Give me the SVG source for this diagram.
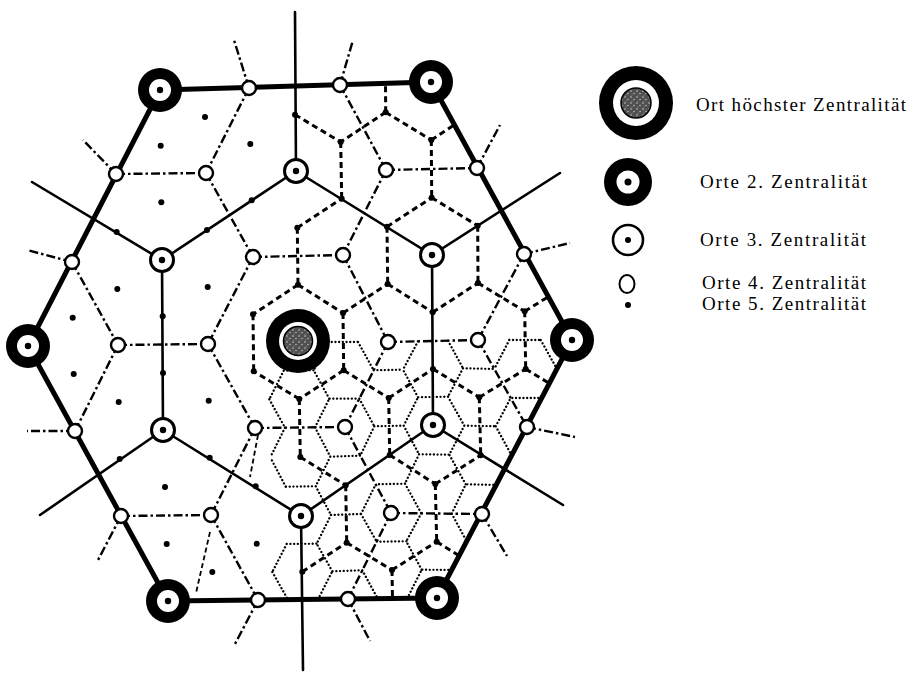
<svg xmlns="http://www.w3.org/2000/svg" width="913" height="674" viewBox="0 0 913 674">
<defs>
<style>
.thick{fill:none;stroke:#000;stroke-width:5;stroke-linecap:round;stroke-linejoin:round}
.solid{fill:none;stroke:#000;stroke-width:2.6;stroke-linecap:round;stroke-linejoin:round}
.dd{fill:none;stroke:#000;stroke-width:2.4;stroke-dasharray:9 3 2.5 3}
.dash{fill:none;stroke:#000;stroke-width:3;stroke-dasharray:6 4}
.dot{fill:none;stroke:#000;stroke-width:2.3;stroke-dasharray:0.1 3.6;stroke-linecap:round}
.thin{fill:none;stroke:#000;stroke-width:1.8;stroke-dasharray:5 3}
.m{fill:#000}
.lbl{font-family:"Liberation Serif","Times New Roman",serif;font-size:19px;fill:#000}
</style>
<pattern id="stip" width="6" height="6" patternUnits="userSpaceOnUse">
<rect width="6" height="6" fill="#505050"/>
<circle cx="1" cy="1" r="0.8" fill="#c8c8c8"/>
<circle cx="4" cy="3.5" r="0.7" fill="#d0d0d0"/>
<circle cx="2" cy="5" r="0.5" fill="#999"/>
</pattern>
<g id="symA"><circle r="32" fill="#000"/><circle r="19" fill="#fff"/><circle r="14.5" fill="url(#stip)" stroke="#000" stroke-width="1.5"/></g>
<g id="symG"><circle r="22" fill="#000"/><circle r="11" fill="#fff"/><circle r="3.2" fill="#000"/></g>
<g id="symB"><circle r="11.5" fill="#fff" stroke="#000" stroke-width="3"/><circle r="3.2" fill="#000"/></g>
<g id="symK"><circle r="7" fill="#fff" stroke="#000" stroke-width="2.4"/></g>
</defs>
<rect width="913" height="674" fill="#fff"/>

<g id="connectors">
<path class="dot" d="M328,342 L358,342 M329.3,398.7 L313.7,370.3 M463,368.3 L448,396.7 M418,397.3 L403,369.7 M509.3,340 L540.7,340 M283.7,370.7 L269.3,399.3 M374.3,426.3 L403.7,425.7 M464.3,425.7 L495.7,426.3 M330.3,456.7 L315.7,486.3 M285.7,486.7 L270.3,457.3 M419,454.3 L405,483.7 M465.7,484.3 L449.3,454.7 M331,515 L361,514 M332.3,571.3 L316.7,543.7 M421.7,569.7 L406.3,541.3 M286.7,544 L272.3,572
M328,342 L313.7,370.3 M358,342 L373.7,370.3 M359.3,398.7 L329.3,398.7 M418,341.3 L403,369.7 M448,340.7 L463,368.3 M448,396.7 L418,397.3 M509.3,340 L494.3,369 M540.7,340 L557,369 M542,398 L510.7,398 M283.7,370.7 L313.7,370.3 M269.3,399.3 L285,427.7 M315,427.3 L329.3,398.7 M373.7,370.3 L403,369.7 M359.3,398.7 L374.3,426.3 M403.7,425.7 L418,397.3 M463,368.3 L494.3,369 M448,396.7 L464.3,425.7 M495.7,426.3 L510.7,398 M285,427.7 L270.3,457.3 M315,427.3 L330.3,456.7 M315.7,486.3 L285.7,486.7 M374.3,426.3 L360.3,455.7 M403.7,425.7 L419,454.3 M405,483.7 L375.7,484.3 M464.3,425.7 L449.3,454.7 M495.7,426.3 L512,456 M497,485 L465.7,484.3 M330.3,456.7 L360.3,455.7 M315.7,486.3 L331,515 M361,514 L375.7,484.3 M419,454.3 L449.3,454.7 M405,483.7 L421.3,513.3 M451.7,513.7 L465.7,484.3 M331,515 L316.7,543.7 M361,514 L376.7,541.7 M362.3,570.3 L332.3,571.3 M421.3,513.3 L406.3,541.3 M451.7,513.7 L467,542 M452,570 L421.7,569.7 M286.7,544 L316.7,543.7 M272.3,572 L288,599.7 M318,599.3 L332.3,571.3 M376.7,541.7 L406.3,541.3 M362.3,570.3 L377.7,598.7 M407.3,598.3 L421.7,569.7"/>
<path class="dash" d="M295,114.7 L340.7,142 M385.7,112.3 L340.7,142 M385.7,112.3 L431.3,140 M385.7,112.3 L385.5,83.5 M340.7,142 L341.7,198.7 M431.3,140 L431.7,197.7 M431.3,140 L454,125 M297.3,227.7 L341.7,198.7 M297.3,227.7 L298,284.7 M387,226.7 L387.7,284 M387,226.7 L431.7,197.7 M431.7,197.7 L477.7,225.7 M477.7,225.7 L478,283 M298,284.7 L343,313 M298,284.7 L253,314.3 M343,313 L343.7,370.3 M343,313 L387.7,284 M387.7,284 L432.7,312.3 M432.7,312.3 L478,283 M478,283 L524.7,311.3 M524.7,311.3 L525.7,369 M524.7,311.3 L548,297 M343.7,370.3 L388.7,398 M343.7,370.3 L299.3,399 M299.3,399 L300.3,457 M299.3,399 L253.7,371.3 M253,314.3 L253.7,371.3 M388.7,398 L389.7,455 M388.7,398 L433,369 M433,369 L479.3,397.3 M479.3,397.3 L480.7,455.3 M479.3,397.3 L525.7,369 M525.7,369 L549.5,383.5 M300.3,457 L345.7,485.3 M345.7,485.3 L346.7,542.7 M389.7,455 L435.3,484 M435.3,484 L436.7,541.7 M435.3,484 L480.7,455.3 M302.3,571.7 L346.7,542.7 M346.7,542.7 L392,570 M392,570 L436.7,541.7 M392,570 L392.5,598.5 M436.7,541.7 L459.5,556"/>
<path class="dd" d="M116,174 L206,173 M386,170 L477,168 M253,257 L343,255 M118,345 L208,344 M388,342 L478,340 M255,428 L345,427 M121,516 L211,515 M391,513 L482,514 M249,88 L206,173 M340,85 L386,170 M206,173 L253,257 M386,170 L343,255 M72,262 L118,345 M253,257 L208,344 M343,255 L388,342 M524,254 L478,340 M118,345 L75,431 M208,344 L255,428 M388,342 L345,427 M478,340 L527,427 M255,428 L211,515 M345,427 L391,513 M211,515 L258,600 M391,513 L348,599
M249,88 L234,40 M340,85 L353,40 M477,168 L500,125 M524,254 L570,243 M527,427 L575,437 M482,514 L507,556 M348,599 L370,641 M258,600 L235,644 M121,516 L97,562 M75,431 L27,431 M72,262 L27,250 M116,174 L83,140"/>
<path class="thin" d="M258,435 L250,477 M210,532 L196,593"/>
<path class="solid" d="M296,171 L432,255 L433,425 L301,516 L163,430 L162,260 Z M295,12 L296,171 M432,255 L560,173 M433,425 L563,505 M301,516 L303,670 M163,430 L40,515 M162,260 L32,182"/>
<path class="thick" d="M160,90 L431,82 L572,340 L437,598 L168,601 L28,346 Z"/>
</g>

<g id="A"><use href="#symA" x="298" y="341"/></g>
<g id="G1"><use href="#symG" x="160" y="90"/></g>
<g id="G2"><use href="#symG" x="431" y="82"/></g>
<g id="G3"><use href="#symG" x="572" y="340"/></g>
<g id="G4"><use href="#symG" x="437" y="598"/></g>
<g id="G5"><use href="#symG" x="168" y="601"/></g>
<g id="G6"><use href="#symG" x="28" y="346"/></g>
<g id="B1"><use href="#symB" x="296" y="171"/></g>
<g id="B2"><use href="#symB" x="432" y="255"/></g>
<g id="B3"><use href="#symB" x="433" y="425"/></g>
<g id="B4"><use href="#symB" x="301" y="516"/></g>
<g id="B5"><use href="#symB" x="163" y="430"/></g>
<g id="B6"><use href="#symB" x="162" y="260"/></g>
<g id="K01"><use href="#symK" x="249" y="88"/></g>
<g id="K02"><use href="#symK" x="340" y="85"/></g>
<g id="K03"><use href="#symK" x="116" y="174"/></g>
<g id="K04"><use href="#symK" x="206" y="173"/></g>
<g id="K05"><use href="#symK" x="386" y="170"/></g>
<g id="K06"><use href="#symK" x="477" y="168"/></g>
<g id="K07"><use href="#symK" x="72" y="262"/></g>
<g id="K08"><use href="#symK" x="253" y="257"/></g>
<g id="K09"><use href="#symK" x="343" y="255"/></g>
<g id="K10"><use href="#symK" x="524" y="254"/></g>
<g id="K11"><use href="#symK" x="118" y="345"/></g>
<g id="K12"><use href="#symK" x="208" y="344"/></g>
<g id="K13"><use href="#symK" x="388" y="342"/></g>
<g id="K14"><use href="#symK" x="478" y="340"/></g>
<g id="K15"><use href="#symK" x="75" y="431"/></g>
<g id="K16"><use href="#symK" x="255" y="428"/></g>
<g id="K17"><use href="#symK" x="345" y="427"/></g>
<g id="K18"><use href="#symK" x="527" y="427"/></g>
<g id="K19"><use href="#symK" x="121" y="516"/></g>
<g id="K20"><use href="#symK" x="211" y="515"/></g>
<g id="K21"><use href="#symK" x="391" y="513"/></g>
<g id="K22"><use href="#symK" x="482" y="514"/></g>
<g id="K23"><use href="#symK" x="258" y="600"/></g>
<g id="K24"><use href="#symK" x="348" y="599"/></g>

<g id="M01"><circle class="m" cx="205" cy="117" r="3"/></g>
<g id="M02"><circle class="m" cx="295" cy="114.7" r="3"/></g>
<g id="M03"><circle class="m" cx="385.7" cy="112.3" r="3"/></g>
<g id="M04"><circle class="m" cx="160.7" cy="145.7" r="3"/></g>
<g id="M05"><circle class="m" cx="250.3" cy="144" r="3"/></g>
<g id="M06"><circle class="m" cx="340.7" cy="142" r="3"/></g>
<g id="M07"><circle class="m" cx="431.3" cy="140" r="3"/></g>
<g id="M08"><circle class="m" cx="161.3" cy="202.3" r="3"/></g>
<g id="M09"><circle class="m" cx="251.7" cy="200.3" r="3"/></g>
<g id="M10"><circle class="m" cx="341.7" cy="198.7" r="3"/></g>
<g id="M11"><circle class="m" cx="431.7" cy="197.7" r="3"/></g>
<g id="M12"><circle class="m" cx="116.7" cy="232" r="3"/></g>
<g id="M13"><circle class="m" cx="207" cy="230" r="3"/></g>
<g id="M14"><circle class="m" cx="297.3" cy="227.7" r="3"/></g>
<g id="M15"><circle class="m" cx="387" cy="226.7" r="3"/></g>
<g id="M16"><circle class="m" cx="477.7" cy="225.7" r="3"/></g>
<g id="M17"><circle class="m" cx="117.3" cy="289" r="3"/></g>
<g id="M18"><circle class="m" cx="207.7" cy="287" r="3"/></g>
<g id="M19"><circle class="m" cx="298" cy="284.7" r="3"/></g>
<g id="M20"><circle class="m" cx="387.7" cy="284" r="3"/></g>
<g id="M21"><circle class="m" cx="478" cy="283" r="3"/></g>
<g id="M22"><circle class="m" cx="72.7" cy="317.7" r="3"/></g>
<g id="M23"><circle class="m" cx="162.7" cy="316.3" r="3"/></g>
<g id="M24"><circle class="m" cx="253" cy="314.3" r="3"/></g>
<g id="M25"><circle class="m" cx="343" cy="313" r="3"/></g>
<g id="M26"><circle class="m" cx="432.7" cy="312.3" r="3"/></g>
<g id="M27"><circle class="m" cx="524.7" cy="311.3" r="3"/></g>
<g id="M28"><circle class="m" cx="73.7" cy="374" r="3"/></g>
<g id="M29"><circle class="m" cx="163" cy="373" r="3"/></g>
<g id="M30"><circle class="m" cx="253.7" cy="371.3" r="3"/></g>
<g id="M31"><circle class="m" cx="343.7" cy="370.3" r="3"/></g>
<g id="M32"><circle class="m" cx="433" cy="369" r="3"/></g>
<g id="M33"><circle class="m" cx="525.7" cy="369" r="3"/></g>
<g id="M34"><circle class="m" cx="118.7" cy="402" r="3"/></g>
<g id="M35"><circle class="m" cx="208.7" cy="400.7" r="3"/></g>
<g id="M36"><circle class="m" cx="299.3" cy="399" r="3"/></g>
<g id="M37"><circle class="m" cx="388.7" cy="398" r="3"/></g>
<g id="M38"><circle class="m" cx="479.3" cy="397.3" r="3"/></g>
<g id="M39"><circle class="m" cx="119.7" cy="459" r="3"/></g>
<g id="M40"><circle class="m" cx="209.7" cy="457.7" r="3"/></g>
<g id="M41"><circle class="m" cx="300.3" cy="457" r="3"/></g>
<g id="M42"><circle class="m" cx="389.7" cy="455" r="3"/></g>
<g id="M43"><circle class="m" cx="480.7" cy="455.3" r="3"/></g>
<g id="M44"><circle class="m" cx="165" cy="487" r="3"/></g>
<g id="M45"><circle class="m" cx="255.7" cy="486.3" r="3"/></g>
<g id="M46"><circle class="m" cx="345.7" cy="485.3" r="3"/></g>
<g id="M47"><circle class="m" cx="435.3" cy="484" r="3"/></g>
<g id="M48"><circle class="m" cx="166.7" cy="544" r="3"/></g>
<g id="M49"><circle class="m" cx="256.7" cy="543.7" r="3"/></g>
<g id="M50"><circle class="m" cx="346.7" cy="542.7" r="3"/></g>
<g id="M51"><circle class="m" cx="436.7" cy="541.7" r="3"/></g>
<g id="M52"><circle class="m" cx="212.3" cy="572" r="3"/></g>
<g id="M53"><circle class="m" cx="302.3" cy="571.7" r="3"/></g>
<g id="M54"><circle class="m" cx="392" cy="570" r="3"/></g>

<g id="legend-A">
<circle cx="636" cy="103" r="37" fill="#000"/><circle cx="636" cy="103" r="23" fill="#fff"/><circle cx="636" cy="103" r="15" fill="url(#stip)" stroke="#000" stroke-width="1.5"/>
<text class="lbl" x="696" y="111" textLength="210" lengthAdjust="spacing">Ort höchster Zentralität</text>
</g>
<g id="legend-G">
<circle cx="628" cy="182" r="24" fill="#000"/><circle cx="628" cy="182" r="11.5" fill="#fff"/><circle cx="628" cy="182" r="3.5" fill="#000"/>
<text class="lbl" x="700" y="188" textLength="167" lengthAdjust="spacing">Orte 2. Zentralität</text>
</g>
<g id="legend-B">
<circle cx="628" cy="240" r="15" fill="#fff" stroke="#000" stroke-width="2.6"/><circle cx="628" cy="240" r="3" fill="#000"/>
<text class="lbl" x="700" y="246" textLength="166" lengthAdjust="spacing">Orte 3. Zentralität</text>
</g>
<g id="legend-K">
<ellipse cx="627" cy="284" rx="7.5" ry="9" fill="#fff" stroke="#000" stroke-width="2"/>
<text class="lbl" x="702" y="289" textLength="164" lengthAdjust="spacing">Orte 4. Zentralität</text>
</g>
<g id="legend-M">
<circle cx="628" cy="305" r="3" fill="#000"/>
<text class="lbl" x="702" y="310" textLength="164" lengthAdjust="spacing">Orte 5. Zentralität</text>
</g>
</svg>
